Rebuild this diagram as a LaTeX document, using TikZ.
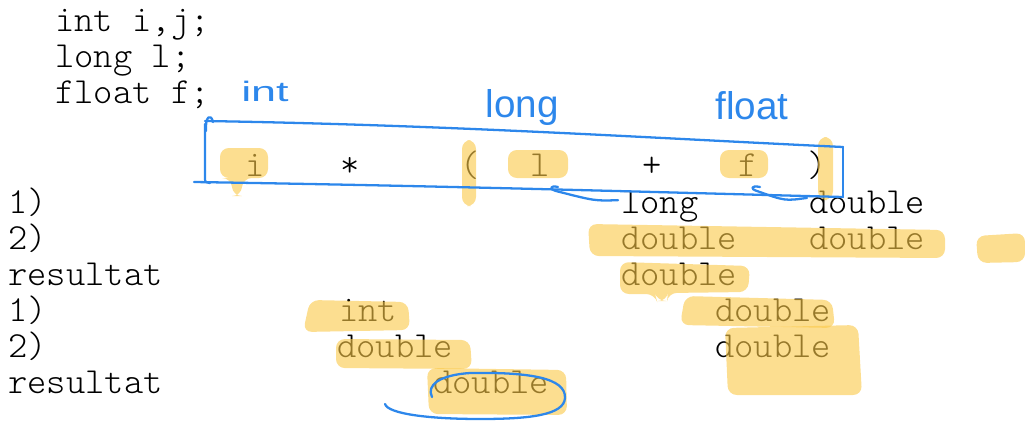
\documentclass[tikz,border=0pt]{standalone}
\usepackage{fontspec}
\usepackage{graphicx}
\usetikzlibrary{calc}
\newfontfamily\codefont{Latin Modern Mono Light}
\newfontfamily\handfont{Liberation Sans}
\definecolor{penblue}{RGB}{45,135,235}
\definecolor{hlyellow}{RGB}{250,200,70}
\begin{document}
\begin{tikzpicture}[x=0.02cm,y=-0.02cm,
  code/.style={anchor=base west, inner sep=0pt, font=\codefont\fontsize{20.9}{24}\selectfont, text=black},
  ecode/.style={anchor=base, inner sep=0pt, font=\codefont\fontsize{20.9}{24}\selectfont, text=black},
  hand/.style={draw=penblue, line width=1.3pt, line cap=round, line join=round},
  handtext/.style={text=penblue, inner sep=0pt, anchor=base, font=\handfont\fontsize{22}{24}\selectfont},
  hl/.style={fill=hlyellow, fill opacity=0.6, draw=none, rounded corners=5pt}]
\useasboundingbox (0,0) rectangle (1025,423);
% declarations
\node[code] (d1) at (55,31) {int i,j;};
\node[code] (d2) at (55,67) {long l;};
\node[code] (d3) at (55,103) {float f;};
% expression
\node[ecode] (ei) at (255,176) {i};
\node[ecode] (em) at (350,176) {*};
\node[ecode] (ep) at (470,176) {(};
\node[ecode] (el) at (540,176) {l};
\node[ecode] (ea) at (652,176) {+};
\node[ecode] (ef) at (748,176) {f};
\node[ecode] (eq) at (817,176) {)};
% rows
\node[code] (s1) at (8,213) {1)};
\node[code] (s1a) at (621,213) {long};
\node[code] (s1b) at (809,213) {double};
\node[code] (s2) at (8,249) {2)};
\node[code] (s2a) at (621,249) {double};
\node[code] (s2b) at (809,249) {double};
\node[code] (s3) at (8,285) {resultat};
\node[code] (s3a) at (621,285) {double};
\node[code] (t1) at (8,321) {1)};
\node[code] (t1a) at (339,321) {int};
\node[code] (t1b) at (715,321) {double};
\node[code] (t2) at (8,357) {2)};
\node[code] (t2a) at (337,357) {double};
\node[code] (t2b) at (715,357) {double};
\node[code] (t3) at (8,393) {resultat};
\node[code] (t3a) at (433,393) {double};
% highlights
\fill[hl] (220,148) -- (268,148) -- (268,178) -- (243,178) -- (241,196) -- (233,196) -- (231,178) -- (220,178) -- cycle;
\fill[hl] (462,140) rectangle (476,206);
\fill[hl] (508,150) rectangle (568,178);
\fill[hl] (720,150) rectangle (768,178);
\fill[hl] (818,137) rectangle (833,200);
\fill[hl] (588,224) -- (945,230) -- (945,258) -- (590,256) -- cycle;
\fill[hl] (976,236) -- (1025,233) -- (1025,262) -- (978,263) -- cycle;
\fill[hl] (620,262) -- (750,266) -- (748,292) -- (668,293) -- (667,301) -- (657,301) -- (655,294) -- (620,294) -- cycle;
\fill[hl] (310,300) -- (408,302) -- (410,330) -- (303,332) -- cycle;
\fill[hl] (685,296) -- (832,300) -- (835,328) -- (680,325) -- cycle;
\fill[hl] (725,328) -- (858,325) -- (862,395) -- (728,395) -- cycle;
\fill[hl] (336,339) -- (470,340) -- (472,369) -- (336,368) -- cycle;
\fill[hl] (427,368) -- (566,370) -- (567,415) -- (429,414) -- cycle;
% handwritten labels
\node[handtext, font=\handfont\fontsize{16}{18}\selectfont] (hint) at (265,101) {\scalebox{1.6}[1]{int}};
\node[handtext] (hlong) at (522,117) {long};
\node[handtext] (hfloat) at (752,119) {float};
% box
\draw[hand] (206,131) .. controls (205,116) and (211,113) .. (213,122);
\draw[hand] (205,124) -- (205,178) .. controls (205,182) .. (210,183);
\draw[hand] (205,121) .. controls (450,125) and (650,138) .. (843,147);
\draw[hand] (843,147) -- (843,197);
\draw[hand] (194,182) .. controls (450,186) and (650,192) .. (843,197);
% arrows
\draw[hand] ($(s1a.west)+(-3,-6)$) .. controls (595,201) .. (556,191) .. controls (549,189) and (550,185) .. (558,187);
\draw[hand] ($(s1b.west)+(-2,-4)$) .. controls (785,201) .. (757,191) .. controls (750,189) and (751,185) .. (760,187);
% ellipse around result
\draw[hand] (432,397) .. controls (426,385) and (440,375) .. (470,373) .. controls (530,372) and (566,378) .. (565,398) .. controls (564,415) and (530,419) .. (480,419) .. controls (430,419) and (388,414) .. (385,404);
\end{tikzpicture}
\end{document}
